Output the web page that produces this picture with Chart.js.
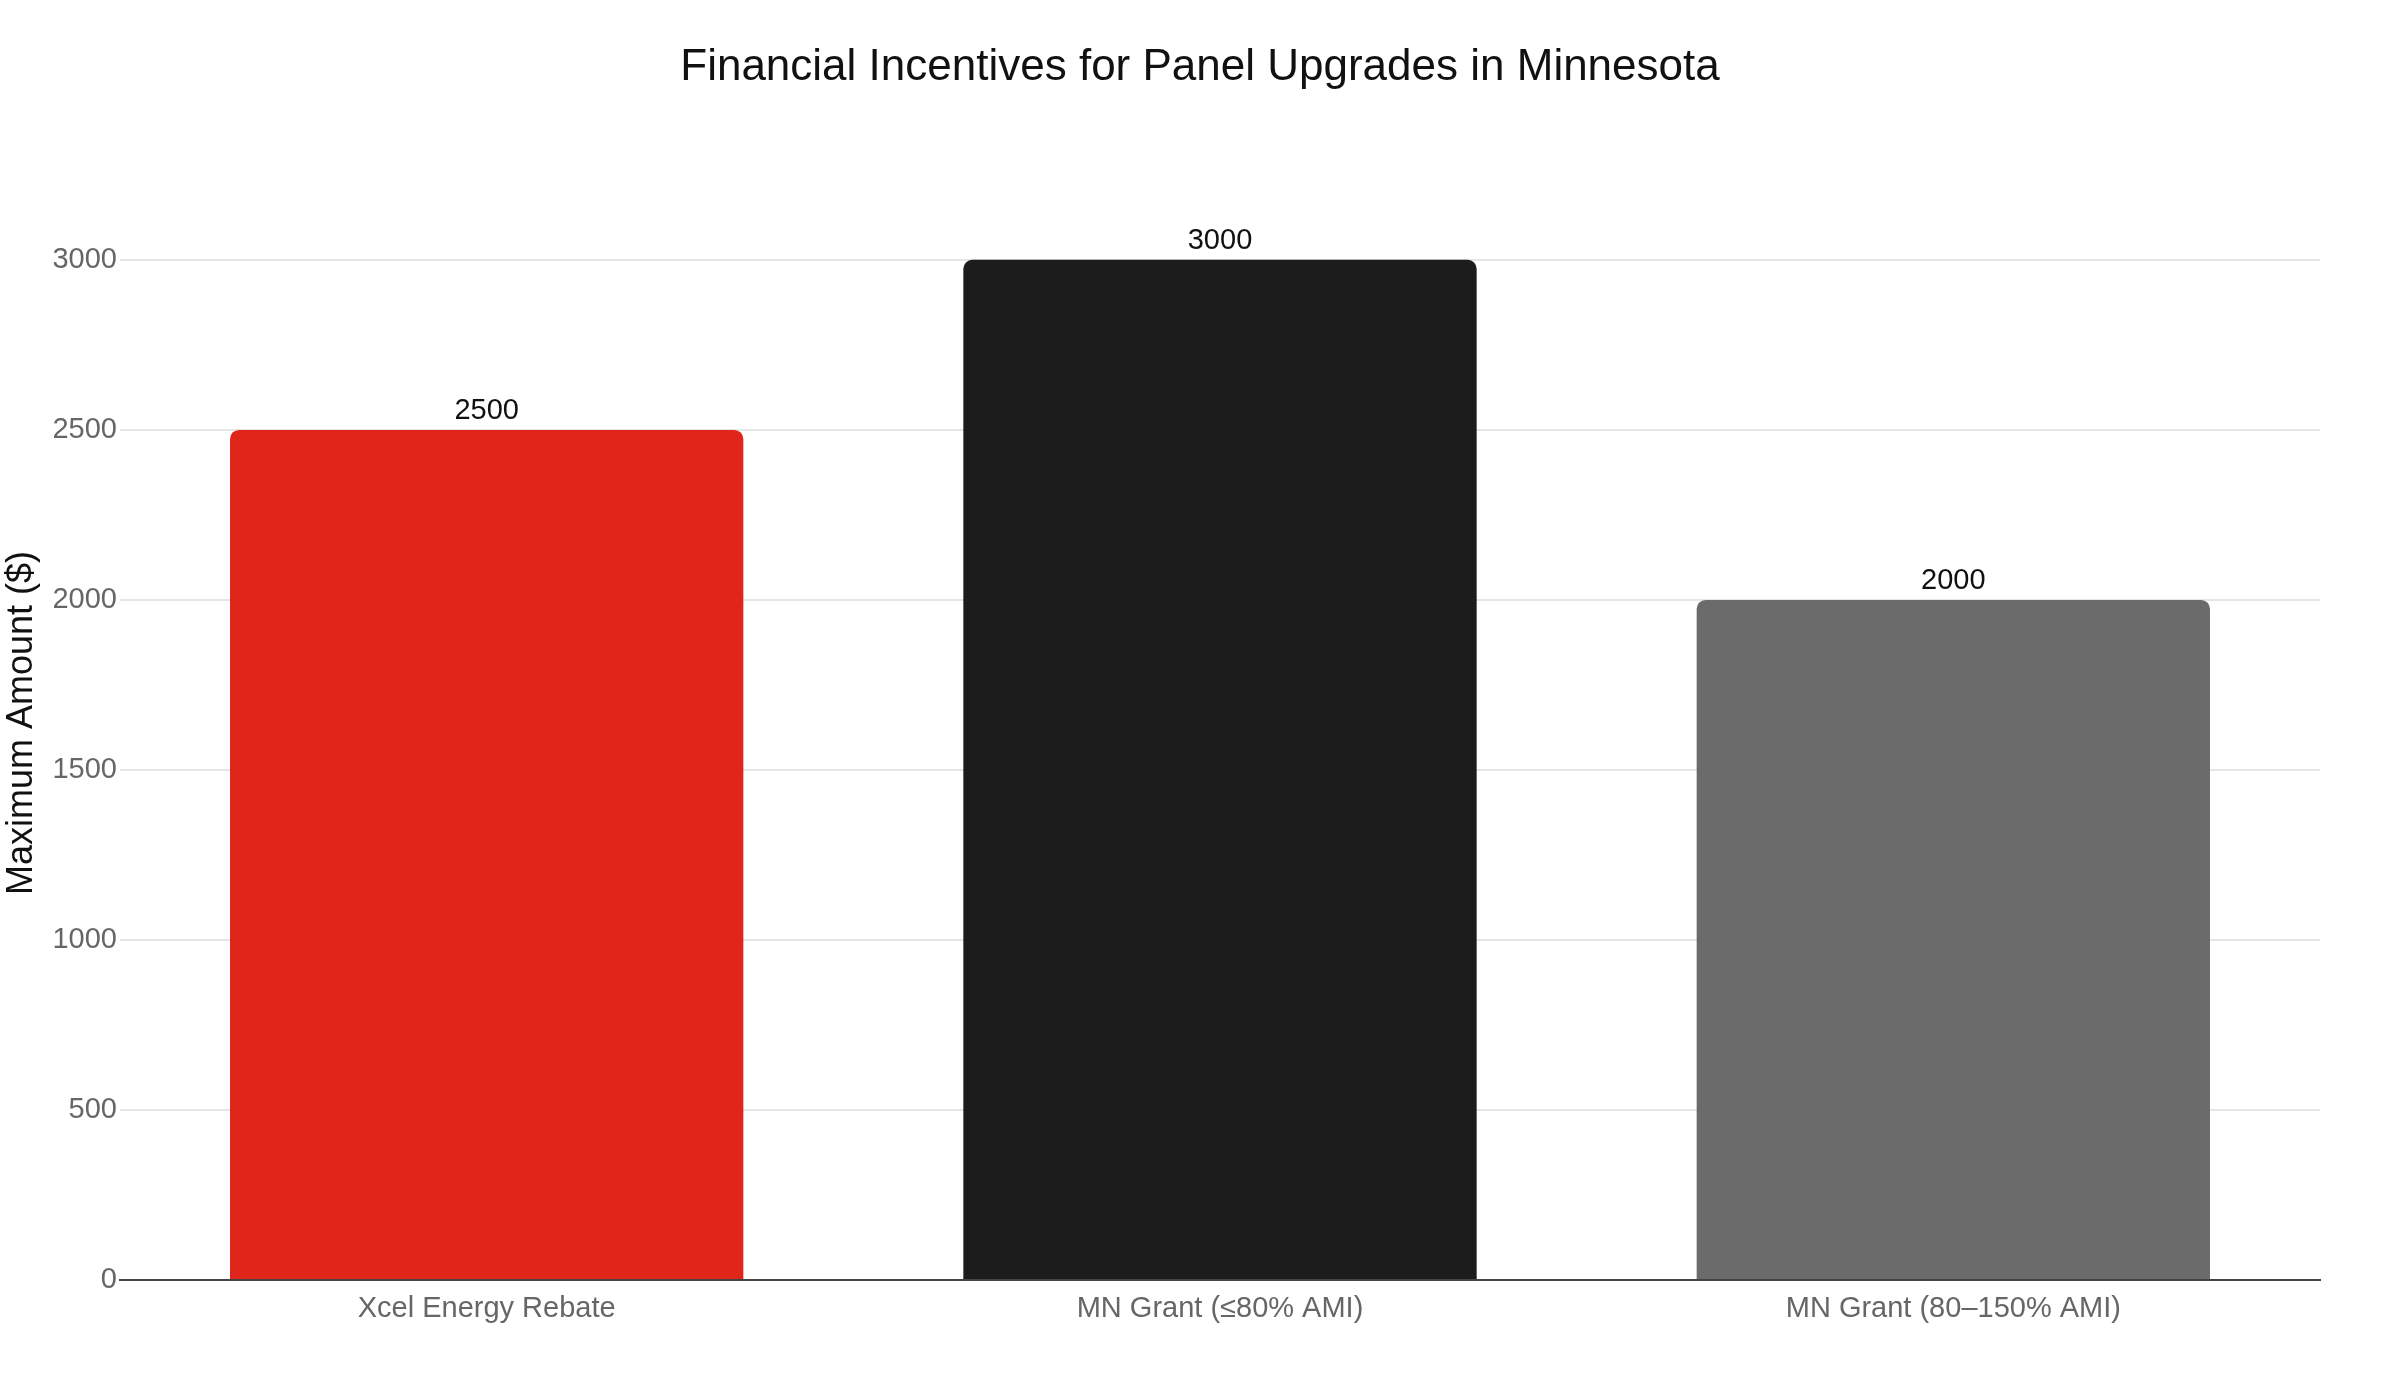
<!DOCTYPE html>
<html>
<head>
<meta charset="utf-8">
<title>Financial Incentives for Panel Upgrades in Minnesota</title>
<script src="https://cdn.jsdelivr.net/npm/chart.js@4.4.1/dist/chart.umd.min.js"></script>
<style>
    html, body { margin: 0; padding: 0; background: #ffffff; }
    #wrap { width: 2400px; height: 1400px; }
</style>
</head>
<body>
<div id="wrap"><canvas id="incentiveChart" width="2400" height="1400"></canvas></div>
<script>
// === Data ===
var chartTitle = 'Financial Incentives for Panel Upgrades in Minnesota';
var programs = ['Xcel Energy Rebate', 'MN Grant (≤80% AMI)', 'MN Grant (80–150% AMI)'];
var maxAmounts = [2500, 3000, 2000];
var barColors = ['#E0251B', '#1C1C1C', '#6B6B6B'];
var yTicks = [0, 500, 1000, 1500, 2000, 2500, 3000];

var FONT = '"Liberation Sans", Arial, Helvetica, sans-serif';

// title centred on the whole canvas (not just the plot area)
var pageTitle = {
    id: 'pageTitle',
    afterDraw: function(chart) {
        var ctx = chart.ctx;
        ctx.save();
        ctx.font = '44px ' + FONT;
        ctx.fillStyle = '#111111';
        ctx.textAlign = 'center';
        ctx.textBaseline = 'alphabetic';
        ctx.fillText(chartTitle, chart.width / 2, 80);
        ctx.restore();
    }
};

// value labels above each bar
var valueLabels = {
    id: 'valueLabels',
    afterDatasetsDraw: function(chart) {
        var ctx = chart.ctx;
        var meta = chart.getDatasetMeta(0);
        ctx.save();
        ctx.font = '29px ' + FONT;
        ctx.fillStyle = '#111111';
        ctx.textAlign = 'center';
        ctx.textBaseline = 'alphabetic';
        meta.data.forEach(function(bar, i) {
            ctx.fillText(String(maxAmounts[i]), bar.x, bar.y - 11);
        });
        ctx.restore();
    }
};

var ctx = document.getElementById('incentiveChart').getContext('2d');
new Chart(ctx, {
    type: 'bar',
    data: {
        labels: programs,
        datasets: [{
            label: 'Maximum Amount ($)',
            data: maxAmounts,
            backgroundColor: barColors,
            borderWidth: 0,
            borderRadius: 9,
            barPercentage: 0.7,
            categoryPercentage: 1.0
        }]
    },
    options: {
        responsive: false,
        animation: false,
        devicePixelRatio: 1,
        layout: { padding: { left: 0, right: 80, top: 166, bottom: 0 } },
        plugins: {
            legend: { display: false },
            tooltip: { enabled: false },
            title: { display: false }
        },
        scales: {
            x: {
                grid: { display: false },
                border: { display: true, color: '#444444', width: 2 },
                ticks: {
                    color: '#666666',
                    font: { family: FONT, size: 29 },
                    padding: 4,
                    maxRotation: 0
                },
                afterFit: function(scale) { scale.height = 120; }
            },
            y: {
                min: 0,
                max: 3276,
                afterBuildTicks: function(scale) {
                    scale.ticks = yTicks.map(function(v) { return { value: v }; });
                },
                grid: {
                    color: function(c) { return c.tick && c.tick.value === 0 ? 'rgba(0,0,0,0)' : '#E5E5E5'; },
                    lineWidth: 2,
                    drawTicks: false
                },
                border: { display: false },
                ticks: {
                    color: '#666666',
                    font: { family: FONT, size: 29 },
                    padding: 3,
                    callback: function(v) { return String(v); }
                },
                title: {
                    display: true,
                    text: 'Maximum Amount ($)',
                    color: '#111111',
                    font: { family: FONT, size: 36, weight: 'normal' },
                    padding: { top: 0, bottom: 0 }
                },
                afterFit: function(scale) { scale.width = 120; }
            }
        }
    },
    plugins: [valueLabels, pageTitle]
});
</script>
</body>
</html>
